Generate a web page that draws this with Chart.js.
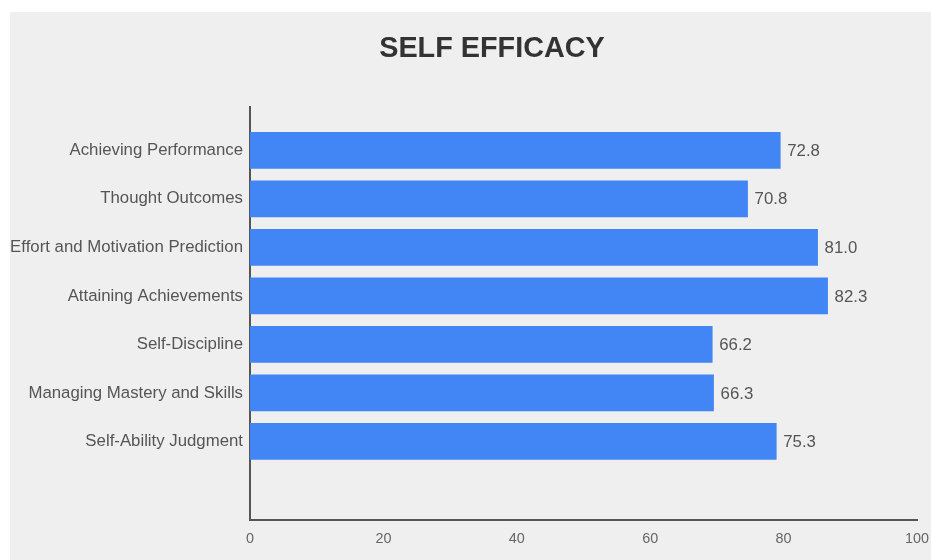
<!DOCTYPE html>
<html>
<head>
<meta charset="utf-8">
<title>Self Efficacy</title>
<script src="https://cdn.jsdelivr.net/npm/chart.js@4.4.1/dist/chart.umd.min.js"></script>
<style>
    html, body { margin: 0; padding: 0; background: #ffffff; }
    #chartWrap {
        position: absolute;
        left: 10px;
        top: 12px;
        width: 921px;
        height: 548px;
        background: #efefef;
    }
    #efficacyChart { display: block; }
</style>
</head>
<body>
<div id="chartWrap">
    <canvas id="efficacyChart" width="921" height="548"></canvas>
</div>
<script>
const chartTitle = 'SELF EFFICACY';

// Categories, top to bottom
const categories = [
    'Achieving Performance',
    'Thought Outcomes',
    'Effort and Motivation Prediction',
    'Attaining Achievements',
    'Self-Discipline',
    'Managing Mastery and Skills',
    'Self-Ability Judgment'
];

// Bar lengths as drawn against the 0-100 axis
const barValues = [79.5, 74.6, 85.1, 86.6, 69.3, 69.5, 78.9];

// Value labels printed next to the bars
const valueLabels = ['72.8', '70.8', '81.0', '82.3', '66.2', '66.3', '75.3'];

const xTicks = [0, 20, 40, 60, 80, 100];

const fontFamily = 'Arial, "Liberation Sans", sans-serif';

// Title sits a little right of the canvas centre, so it is drawn by hand
const titlePlugin = {
    id: 'offsetTitle',
    afterDraw(chart) {
        const ctx = chart.ctx;
        ctx.save();
        ctx.font = `bold 28.8px ${fontFamily}`;
        ctx.fillStyle = '#333333';
        ctx.textAlign = 'center';
        ctx.textBaseline = 'middle';
        ctx.fillText(chartTitle, 482, 37);
        ctx.restore();
    }
};

// Writes the printed value just past the end of each bar
const valueLabelPlugin = {
    id: 'valueLabels',
    afterDatasetsDraw(chart) {
        const ctx = chart.ctx;
        const meta = chart.getDatasetMeta(0);
        ctx.save();
        ctx.font = `16.8px ${fontFamily}`;
        ctx.fillStyle = '#555555';
        ctx.textAlign = 'left';
        ctx.textBaseline = 'middle';
        meta.data.forEach((bar, i) => {
            ctx.fillText(valueLabels[i], bar.x + 7, bar.y + 1);
        });
        ctx.restore();
    }
};

function buildChart() {
    const ctx = document.getElementById('efficacyChart').getContext('2d');

    const points = barValues.map((v, i) => ({ x: v, y: i }));

    new Chart(ctx, {
        type: 'bar',
        data: {
            datasets: [{
                data: points,
                backgroundColor: '#4285f4',
                borderWidth: 0,
                barThickness: 36
            }]
        },
        plugins: [valueLabelPlugin, titlePlugin],
        options: {
            indexAxis: 'y',
            responsive: false,
            animation: false,
            devicePixelRatio: 1,
            layout: {
                padding: { left: 0, right: 0, top: 95.3, bottom: 2.7 }
            },
            plugins: {
                legend: { display: false },
                tooltip: { enabled: false },
                title: { display: false }
            },
            scales: {
                x: {
                    type: 'linear',
                    position: 'bottom',
                    min: xTicks[0],
                    max: xTicks[xTicks.length - 1],
                    afterBuildTicks: (axis) => {
                        axis.ticks = xTicks.map(v => ({ value: v }));
                    },
                    afterFit: (axis) => {
                        axis.paddingLeft = 0;
                        axis.paddingRight = 14;
                    },
                    grid: { display: false, drawTicks: false },
                    border: { display: true, color: '#555555', width: 2 },
                    ticks: {
                        color: '#666666',
                        padding: 10,
                        font: { family: fontFamily, size: 14.4 }
                    }
                },
                y: {
                    type: 'linear',
                    reverse: true,
                    offset: false,
                    min: -0.887,
                    max: 7.62,
                    z: 1,
                    afterFit: (axis) => { axis.width = 240; },
                    grid: { display: false, drawTicks: false },
                    border: { display: true, color: '#555555', width: 2 },
                    ticks: {
                        stepSize: 1,
                        includeBounds: false,
                        autoSkip: false,
                        padding: 7,
                        color: '#555555',
                        font: { family: fontFamily, size: 16.8 },
                        callback: (value) => categories[value] ?? ''
                    }
                }
            }
        }
    });
}

buildChart();
</script>
</body>
</html>
